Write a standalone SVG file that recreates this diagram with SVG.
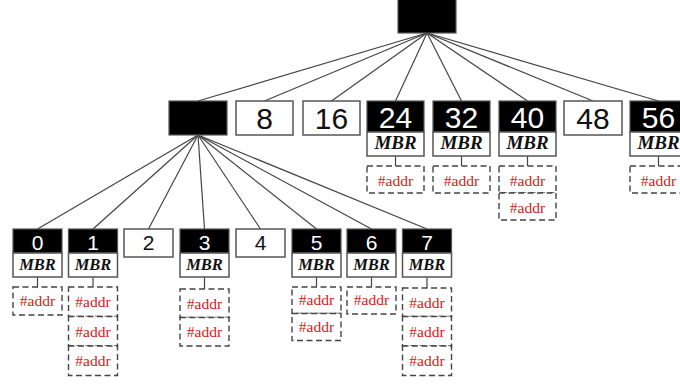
<svg xmlns="http://www.w3.org/2000/svg" width="680" height="385" viewBox="0 0 680 385">
<style>
.blk{fill:#000;stroke:#555;stroke-width:1.2}
.wht{fill:#fff;stroke:#555;stroke-width:1.5}
.adr{fill:#fff;stroke:#444;stroke-width:1.4;stroke-dasharray:6,3.5}
.num{font-family:"Liberation Sans",Arial,sans-serif;text-anchor:middle}
.n1{font-size:30px}
.n2{font-size:21px}
.w{fill:#fff}
.k{fill:#111}
.mbr{font-family:"Liberation Serif","Times New Roman",serif;font-weight:bold;font-style:italic;text-anchor:middle;fill:#111}
.m1{font-size:19px}
.m2{font-size:16.5px}
.at{font-family:"Liberation Serif","Times New Roman",serif;text-anchor:middle;fill:#d42020;font-size:15.5px}
.ln{stroke:#444;stroke-width:1.2;fill:none}
</style>
<g id="connectors" class="ln">
<line x1="427" y1="33" x2="198" y2="101"/>
<line x1="427" y1="33" x2="264.5" y2="101"/>
<line x1="427" y1="33" x2="331.5" y2="101"/>
<line x1="427" y1="33" x2="395.5" y2="101"/>
<line x1="427" y1="33" x2="461.5" y2="101"/>
<line x1="427" y1="33" x2="527.5" y2="101"/>
<line x1="427" y1="33" x2="593" y2="101"/>
<line x1="427" y1="33" x2="658.5" y2="101"/>
<line x1="198" y1="135" x2="37.5" y2="229"/>
<line x1="198" y1="135" x2="93" y2="229"/>
<line x1="198" y1="135" x2="148.5" y2="229"/>
<line x1="198" y1="135" x2="204.5" y2="229"/>
<line x1="198" y1="135" x2="260.5" y2="229"/>
<line x1="198" y1="135" x2="316.5" y2="229"/>
<line x1="198" y1="135" x2="371.5" y2="229"/>
<line x1="198" y1="135" x2="427" y2="229"/>
<line x1="395.5" y1="156" x2="395.5" y2="166"/>
<line x1="461.5" y1="156" x2="461.5" y2="166"/>
<line x1="527.5" y1="156" x2="527.5" y2="166"/>
<line x1="658.5" y1="156" x2="658.5" y2="166"/>
<line x1="37.5" y1="277" x2="37.5" y2="287"/>
<line x1="93" y1="277" x2="93" y2="287"/>
<line x1="204.5" y1="277" x2="204.5" y2="289"/>
<line x1="316.5" y1="277" x2="316.5" y2="287"/>
<line x1="371.5" y1="277" x2="371.5" y2="287"/>
<line x1="427" y1="277" x2="427" y2="288"/>
</g>
<g id="root"><rect class="blk" x="398" y="-2" width="58" height="35"/></g>
<g id="n-l1"><rect class="blk" x="169" y="101" width="58" height="34"/></g>
<g id="n8"><rect class="wht" x="236" y="101" width="57" height="34"/><text class="num n1 k" x="264.5" y="128.5">8</text></g>
<g id="n16"><rect class="wht" x="303" y="101" width="57" height="34"/><text class="num n1 k" x="331.5" y="128.5">16</text></g>
<g id="n24"><rect class="blk" x="367" y="101" width="57" height="31"/><text class="num n1 w" x="395.5" y="127.5">24</text><rect class="wht" x="367" y="132" width="57" height="24"/><text class="mbr m1" x="395.5" y="149">MBR</text>
<rect class="adr" x="367" y="166" width="57" height="27"/><text class="at" x="395.5" y="185.5">#addr</text></g>
<g id="n32"><rect class="blk" x="433" y="101" width="57" height="31"/><text class="num n1 w" x="461.5" y="127.5">32</text><rect class="wht" x="433" y="132" width="57" height="24"/><text class="mbr m1" x="461.5" y="149">MBR</text>
<rect class="adr" x="433" y="166" width="57" height="27"/><text class="at" x="461.5" y="185.5">#addr</text></g>
<g id="n40"><rect class="blk" x="499" y="101" width="57" height="31"/><text class="num n1 w" x="527.5" y="127.5">40</text><rect class="wht" x="499" y="132" width="57" height="24"/><text class="mbr m1" x="527.5" y="149">MBR</text>
<rect class="adr" x="499" y="166" width="57" height="27"/><text class="at" x="527.5" y="185.5">#addr</text>
<rect class="adr" x="499" y="193" width="57" height="27"/><text class="at" x="527.5" y="212.5">#addr</text></g>
<g id="n48"><rect class="wht" x="564" y="101" width="58" height="34"/><text class="num n1 k" x="593" y="128.5">48</text></g>
<g id="n56"><rect class="blk" x="630" y="101" width="57" height="31"/><text class="num n1 w" x="658.5" y="127.5">56</text><rect class="wht" x="630" y="132" width="57" height="24"/><text class="mbr m1" x="658.5" y="149">MBR</text>
<rect class="adr" x="630" y="166" width="57" height="27"/><text class="at" x="658.5" y="185.5">#addr</text></g>
<g id="n0"><rect class="blk" x="13" y="229" width="49" height="24"/><text class="num n2 w" x="37.5" y="250">0</text><rect class="wht" x="13" y="253" width="49" height="24"/><text class="mbr m2" x="37.5" y="270">MBR</text>
<rect class="adr" x="13" y="287" width="49" height="28"/><text class="at" x="37.5" y="306">#addr</text></g>
<g id="n1"><rect class="blk" x="68.5" y="229" width="49" height="24"/><text class="num n2 w" x="93" y="250">1</text><rect class="wht" x="68.5" y="253" width="49" height="24"/><text class="mbr m2" x="93" y="270">MBR</text>
<rect class="adr" x="68.5" y="287" width="49" height="29.5"/><text class="at" x="93" y="307">#addr</text>
<rect class="adr" x="68.5" y="316.5" width="49" height="29.5"/><text class="at" x="93" y="336.5">#addr</text>
<rect class="adr" x="68.5" y="346" width="49" height="29.5"/><text class="at" x="93" y="366">#addr</text></g>
<g id="n2"><rect class="wht" x="124" y="229" width="49" height="28"/><text class="num n2 k" x="148.5" y="250">2</text></g>
<g id="n3"><rect class="blk" x="180" y="229" width="49" height="24"/><text class="num n2 w" x="204.5" y="250">3</text><rect class="wht" x="180" y="253" width="49" height="24"/><text class="mbr m2" x="204.5" y="270">MBR</text>
<rect class="adr" x="180" y="289" width="49" height="28.5"/><text class="at" x="204.5" y="308.5">#addr</text>
<rect class="adr" x="180" y="317.5" width="49" height="28.5"/><text class="at" x="204.5" y="337">#addr</text></g>
<g id="n4"><rect class="wht" x="236" y="229" width="49" height="28"/><text class="num n2 k" x="260.5" y="250">4</text></g>
<g id="n5"><rect class="blk" x="292" y="229" width="49" height="24"/><text class="num n2 w" x="316.5" y="250">5</text><rect class="wht" x="292" y="253" width="49" height="24"/><text class="mbr m2" x="316.5" y="270">MBR</text>
<rect class="adr" x="292" y="287" width="49" height="26.5"/><text class="at" x="316.5" y="305">#addr</text>
<rect class="adr" x="292" y="313.5" width="49" height="27"/><text class="at" x="316.5" y="332">#addr</text></g>
<g id="n6"><rect class="blk" x="347" y="229" width="49" height="24"/><text class="num n2 w" x="371.5" y="250">6</text><rect class="wht" x="347" y="253" width="49" height="24"/><text class="mbr m2" x="371.5" y="270">MBR</text>
<rect class="adr" x="347" y="287" width="49" height="27"/><text class="at" x="371.5" y="305">#addr</text></g>
<g id="n7"><rect class="blk" x="402.5" y="229" width="49" height="24"/><text class="num n2 w" x="427" y="250">7</text><rect class="wht" x="402.5" y="253" width="49" height="24"/><text class="mbr m2" x="427" y="270">MBR</text>
<rect class="adr" x="402.5" y="288" width="49" height="28.5"/><text class="at" x="427" y="307.5">#addr</text>
<rect class="adr" x="402.5" y="316.5" width="49" height="29.5"/><text class="at" x="427" y="336.5">#addr</text>
<rect class="adr" x="402.5" y="346" width="49" height="29.5"/><text class="at" x="427" y="366">#addr</text></g>
</svg>
